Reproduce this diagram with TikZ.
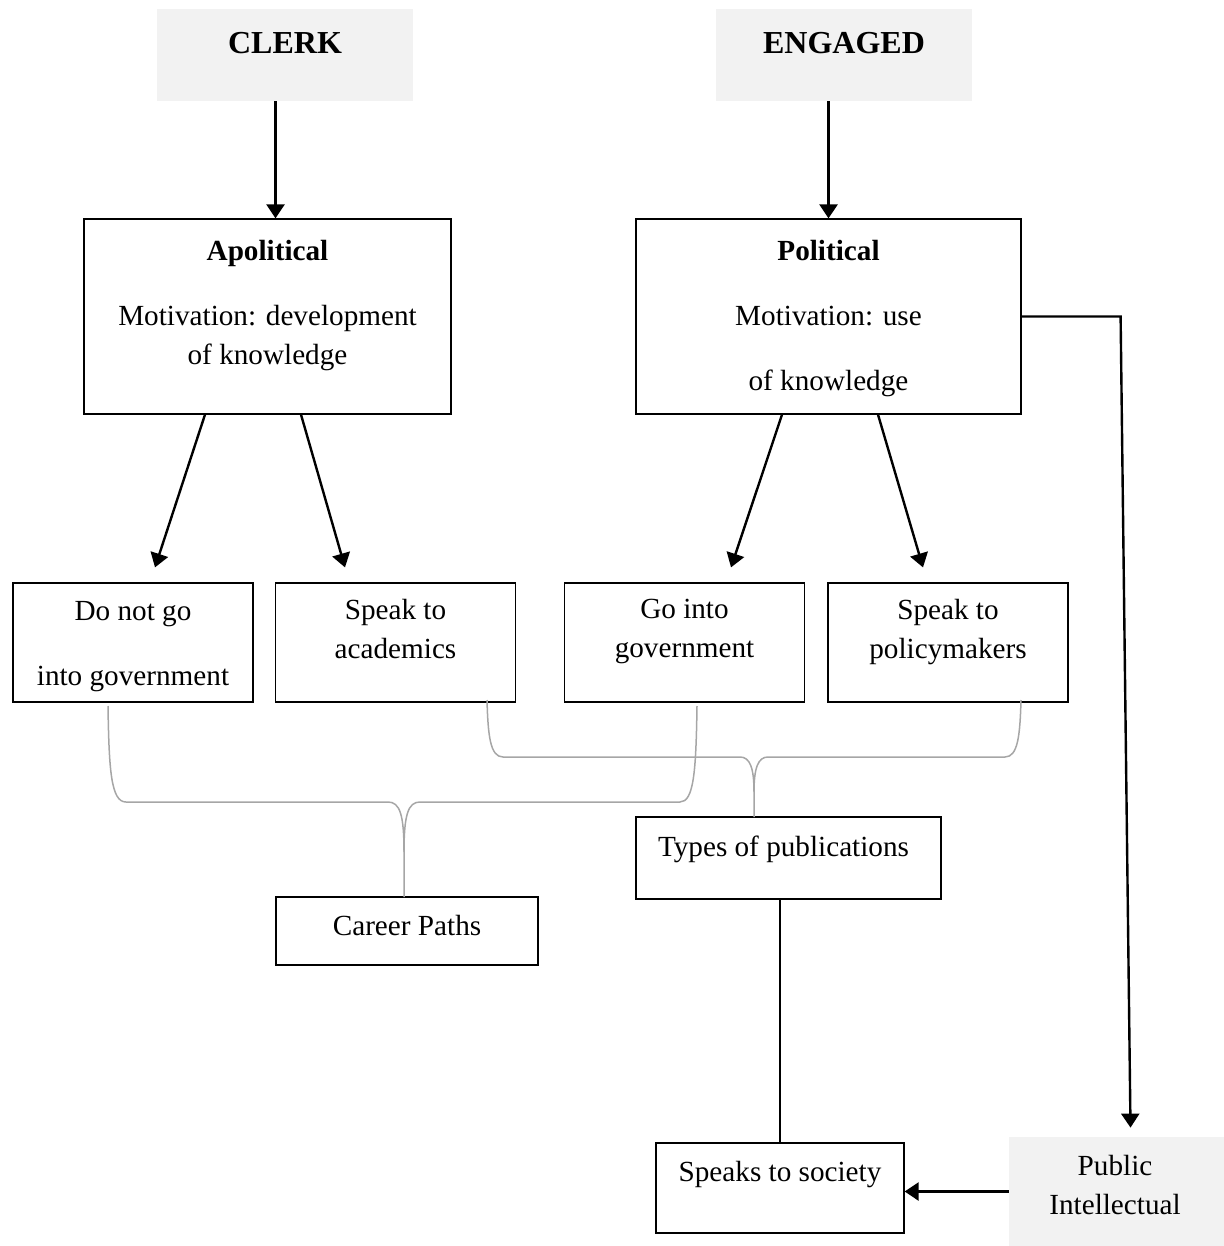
\documentclass[tikz,border=0pt]{standalone}
\usepackage{fontspec}
\setmainfont{Liberation Serif}
\usetikzlibrary{arrows.meta}

\begin{document}
\begin{tikzpicture}[x=0.5pt,y=-0.5pt,
  every node/.style={font=\fontsize{14.6}{19.5}\selectfont},
  box/.style={draw,line width=0.6pt,inner sep=0pt},
  greybox/.style={fill=black!5,inner sep=0pt},
  txt/.style={align=center,inner sep=0pt},
  arr/.style={line width=1.2pt,-{Triangle[length=7pt,width=9pt]}},
  brace/.style={draw=black!35,line width=0.75pt}]
  \useasboundingbox (0,0) rectangle (1224,1246);
  \node[greybox,minimum width=128pt,minimum height=46pt] (clerk) at (285,55) {};
  \node[greybox,minimum width=128pt,minimum height=46pt] (engaged) at (844,55) {};
  \node[txt,font=\fontsize{16}{19.5}\selectfont\bfseries] (clerkt) at (285,43) {CLERK};
  \node[txt,font=\fontsize{16}{19.5}\selectfont\bfseries] (engagedt) at (844,43) {ENGAGED};
  \node[box,minimum width=183.5pt,minimum height=97.5pt] (apol) at (267.5,316.5) {};
  \node[box,minimum width=192.5pt,minimum height=97.5pt] (pol) at (828.5,316.5) {};
  \node[txt] (apolt) at (267.5,306) {\textbf{Apolitical}\\[13pt]Motivation: development\\of knowledge};
  \node[txt] (polt) at (828.5,319) {\textbf{Political}\\[13pt]Motivation: use\\[13pt]of knowledge};
  \node[box,minimum width=120pt,minimum height=59.5pt] (dnot) at (133,642.5) {};
  \node[box,minimum width=120pt,minimum height=59.5pt] (acad) at (395.5,642.5) {};
  \node[box,minimum width=120pt,minimum height=59.5pt] (gov) at (684.5,642.5) {};
  \node[box,minimum width=120pt,minimum height=59.5pt] (policy) at (948,642.5) {};
  \node[txt] (dnott) at (133,646.5) {Do not go\\[13pt]into government};
  \node[txt] (acadt) at (395.5,629.5) {Speak to\\academics};
  \node[txt] (govt) at (684.5,631.5) {Go into\\government};
  \node[txt] (policyt) at (948,632) {Speak to\\policymakers};
  \node[box,minimum width=152.5pt,minimum height=41pt] (types) at (788.5,858) {};
  \node[box,minimum width=131pt,minimum height=34pt] (career) at (407,931) {};
  \node[box,minimum width=124pt,minimum height=45pt] (society) at (780,1188) {};
  \node[greybox,minimum width=107.5pt,minimum height=54.5pt] (public) at (1116.5,1191.5) {};
  \node[txt] (typest) at (783.5,849) {Types of publications};
  \node[txt] (careert) at (407,926) {Career Paths};
  \node[txt] (societyt) at (780,1175) {Speaks to society};
  \node[txt] (publict) at (1115,1185) {Public\\Intellectual};
  \draw[arr] ([xshift=4pt]apol.north |- clerk.south) -- ([xshift=4pt]apol.north);
  \draw[arr] (pol.north |- engaged.south) -- (pol.north);
  \draw[arr] ([xshift=-31.25pt]apol.south) -- ([xshift=11pt,yshift=7.5pt]dnot.north);
  \draw[arr] ([xshift=16.75pt]apol.south) -- ([xshift=-25.25pt,yshift=7.5pt]acad.north);
  \draw[arr] ([xshift=-23.25pt]pol.south) -- ([xshift=23.25pt,yshift=7.5pt]gov.north);
  \draw[arr] ([xshift=24.75pt]pol.south) -- ([xshift=-12.5pt,yshift=7.5pt]policy.north);
  \draw[arr] (pol.east) -- ++(49.5pt,0) coordinate (bend) -- ([xshift=7pt,yshift=4.5pt]public.north);
  \draw[arr] (public.west) -- (public.west -| society.east);
  \draw[line width=0.9pt] (society.north |- types.south) -- (society.north);
  \draw[brace] (108,706) .. controls (109,770) and (111,802) .. (126,802) -- (388,802)
    .. controls (400,802) and (404,815) .. (404,852) -- (404,897);
  \draw[brace] (697,706) .. controls (696,770) and (694,802) .. (680,802) -- (420,802)
    .. controls (408,802) and (404,815) .. (404,852);
  \draw[brace] (487,700) .. controls (488,735) and (490,757) .. (503,757) -- (740,757)
    .. controls (750,757) and (754,768) .. (754,792) -- (754,817);
  \draw[brace] (1021,700) .. controls (1020,735) and (1018,757) .. (1005,757) -- (768,757)
    .. controls (758,757) and (754,768) .. (754,792);
\end{tikzpicture}
\end{document}
